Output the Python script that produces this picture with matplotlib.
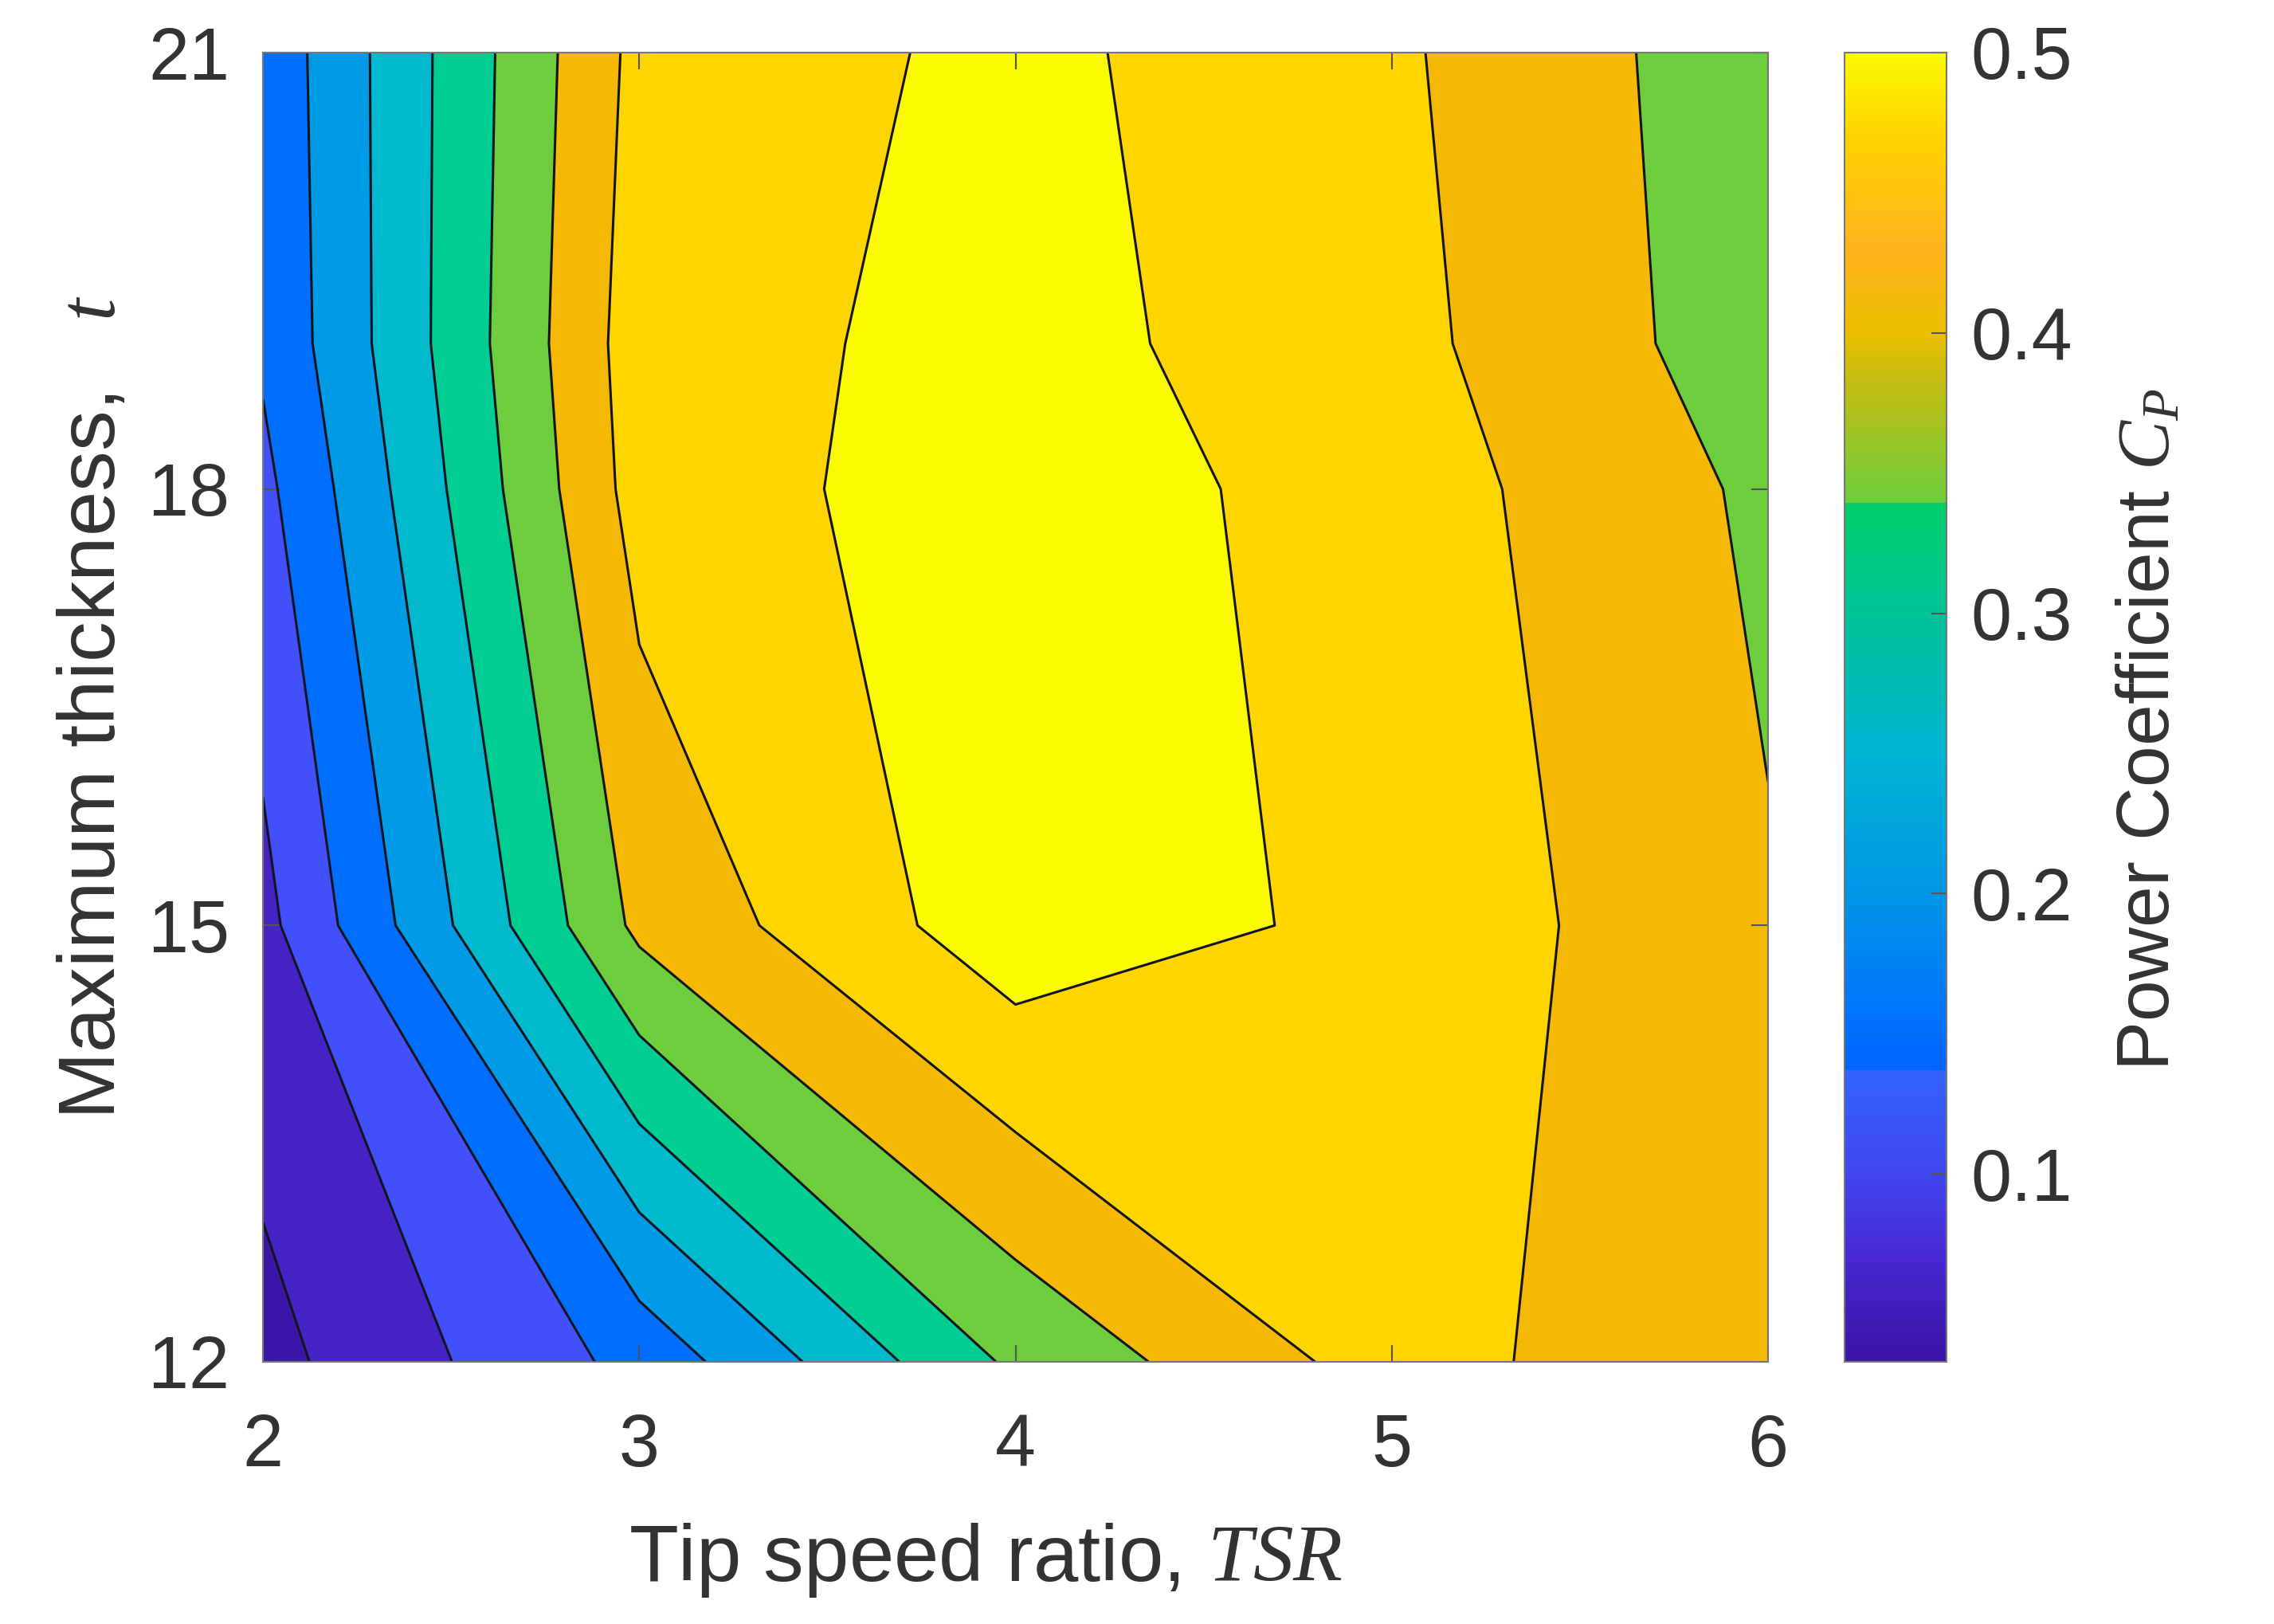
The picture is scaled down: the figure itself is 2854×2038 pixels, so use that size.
import numpy as np
import matplotlib
matplotlib.use("Agg")
import matplotlib.pyplot as plt
from matplotlib.cm import ScalarMappable
from matplotlib.colors import LinearSegmentedColormap, Normalize

# values
tsr = [2, 3, 4, 5, 6]
thickness = [12, 15, 18, 19, 21]
cp_t12 = [0.0337, 0.1656, 0.360, 0.473, 0.402]
cp_t15 = [0.0846, 0.412, 0.531, 0.486, 0.405]
cp_t18 = [0.137, 0.471, 0.530, 0.475, 0.3898]
cp_t19 = [0.158, 0.4764, 0.5195, 0.465, 0.3723]
cp_t21 = [0.1646, 0.465, 0.5136, 0.458, 0.3687]

contour_levels = [0.05, 0.10, 0.15, 0.20, 0.25, 0.30, 0.35, 0.40, 0.45, 0.50]
band_colors = ["#3c16a8", "#4623c4", "#4150fa", "#006eff", "#009be6", "#00b9cd",
               "#00cd91", "#6ecd3c", "#f5b905", "#ffd500", "#fafa00"]

# colorbar stops (Cp, colour)
cbar_min = 0.033
cbar_max = 0.5
cbar_stops = [(0.033, "#3c14a5"), (0.07, "#4628d2"), (0.10, "#4146f0"), (0.137, "#3264ff"),
              (0.137, "#0064ff"), (0.15, "#006eff"), (0.20, "#0096e6"), (0.25, "#00b4d2"),
              (0.30, "#00c396"), (0.34, "#00cd69"), (0.34, "#6ecd3c"), (0.38, "#bebe14"),
              (0.40, "#ebbe00"), (0.43, "#ffb41e"), (0.47, "#ffd200"), (0.50, "#fafa00")]

plt.rcParams["font.family"] = "Liberation Sans"
plt.rcParams["mathtext.fontset"] = "custom"
plt.rcParams["mathtext.rm"] = "Liberation Sans"
plt.rcParams["mathtext.it"] = "Liberation Serif:italic"

W, H = 2854, 2038
fig = plt.figure(figsize=(W / 100, H / 100), dpi=100)
ax = fig.add_axes([330 / W, 1 - 1709 / H, (2219 - 330) / W, (1709 - 66) / H])
cax = fig.add_axes([2315 / W, 1 - 1709 / H, (2443 - 2315) / W, (1709 - 66) / H])

cp = np.array([cp_t12, cp_t15, cp_t18, cp_t19, cp_t21])
fill_levels = [0.0] + contour_levels + [0.6]
ax.contourf(tsr, thickness, cp, levels=fill_levels, colors=band_colors)
ax.contour(tsr, thickness, cp, levels=contour_levels, colors="#14141e", linewidths=2.2)

ax.set_xlim(2, 6)
ax.set_ylim(12, 21)
ax.set_xticks(tsr)
ax.set_yticks([12, 15, 18, 21])
ax.tick_params(direction="in", length=15, width=1.5, color="#555555", top=True, right=True,
               labelsize=66, labelcolor="#333333")
ax.tick_params(axis="x", pad=46)
ax.tick_params(axis="y", pad=30)
for s in ax.spines.values():
    s.set_color("#777777")
    s.set_linewidth(1.5)

ax.set_xlabel("Tip speed ratio, $TSR$", fontsize=73, color="#333333", labelpad=36, x=0.48)
ax.set_ylabel("Maximum thickness,   $t$", fontsize=73, color="#333333", labelpad=15)

pos = [(v - cbar_min) / (cbar_max - cbar_min) for v, c in cbar_stops]
cols = [c for v, c in cbar_stops]
cmap = LinearSegmentedColormap.from_list("cp", list(zip(pos, cols)), N=512)
sm = ScalarMappable(norm=Normalize(cbar_min, cbar_max), cmap=cmap)
cb = fig.colorbar(sm, cax=cax, ticks=[0.1, 0.2, 0.3, 0.4, 0.5])
cb.ax.tick_params(direction="in", length=14, width=1.5, color="#555555",
                  labelsize=66, labelcolor="#333333", pad=22)
cb.outline.set_edgecolor("#777777")
cb.outline.set_linewidth(1.5)
cb.set_label("Power Coefficient $C_P$", fontsize=67, color="#333333", labelpad=39, y=0.483)

fig.savefig("out.png", dpi=100)
